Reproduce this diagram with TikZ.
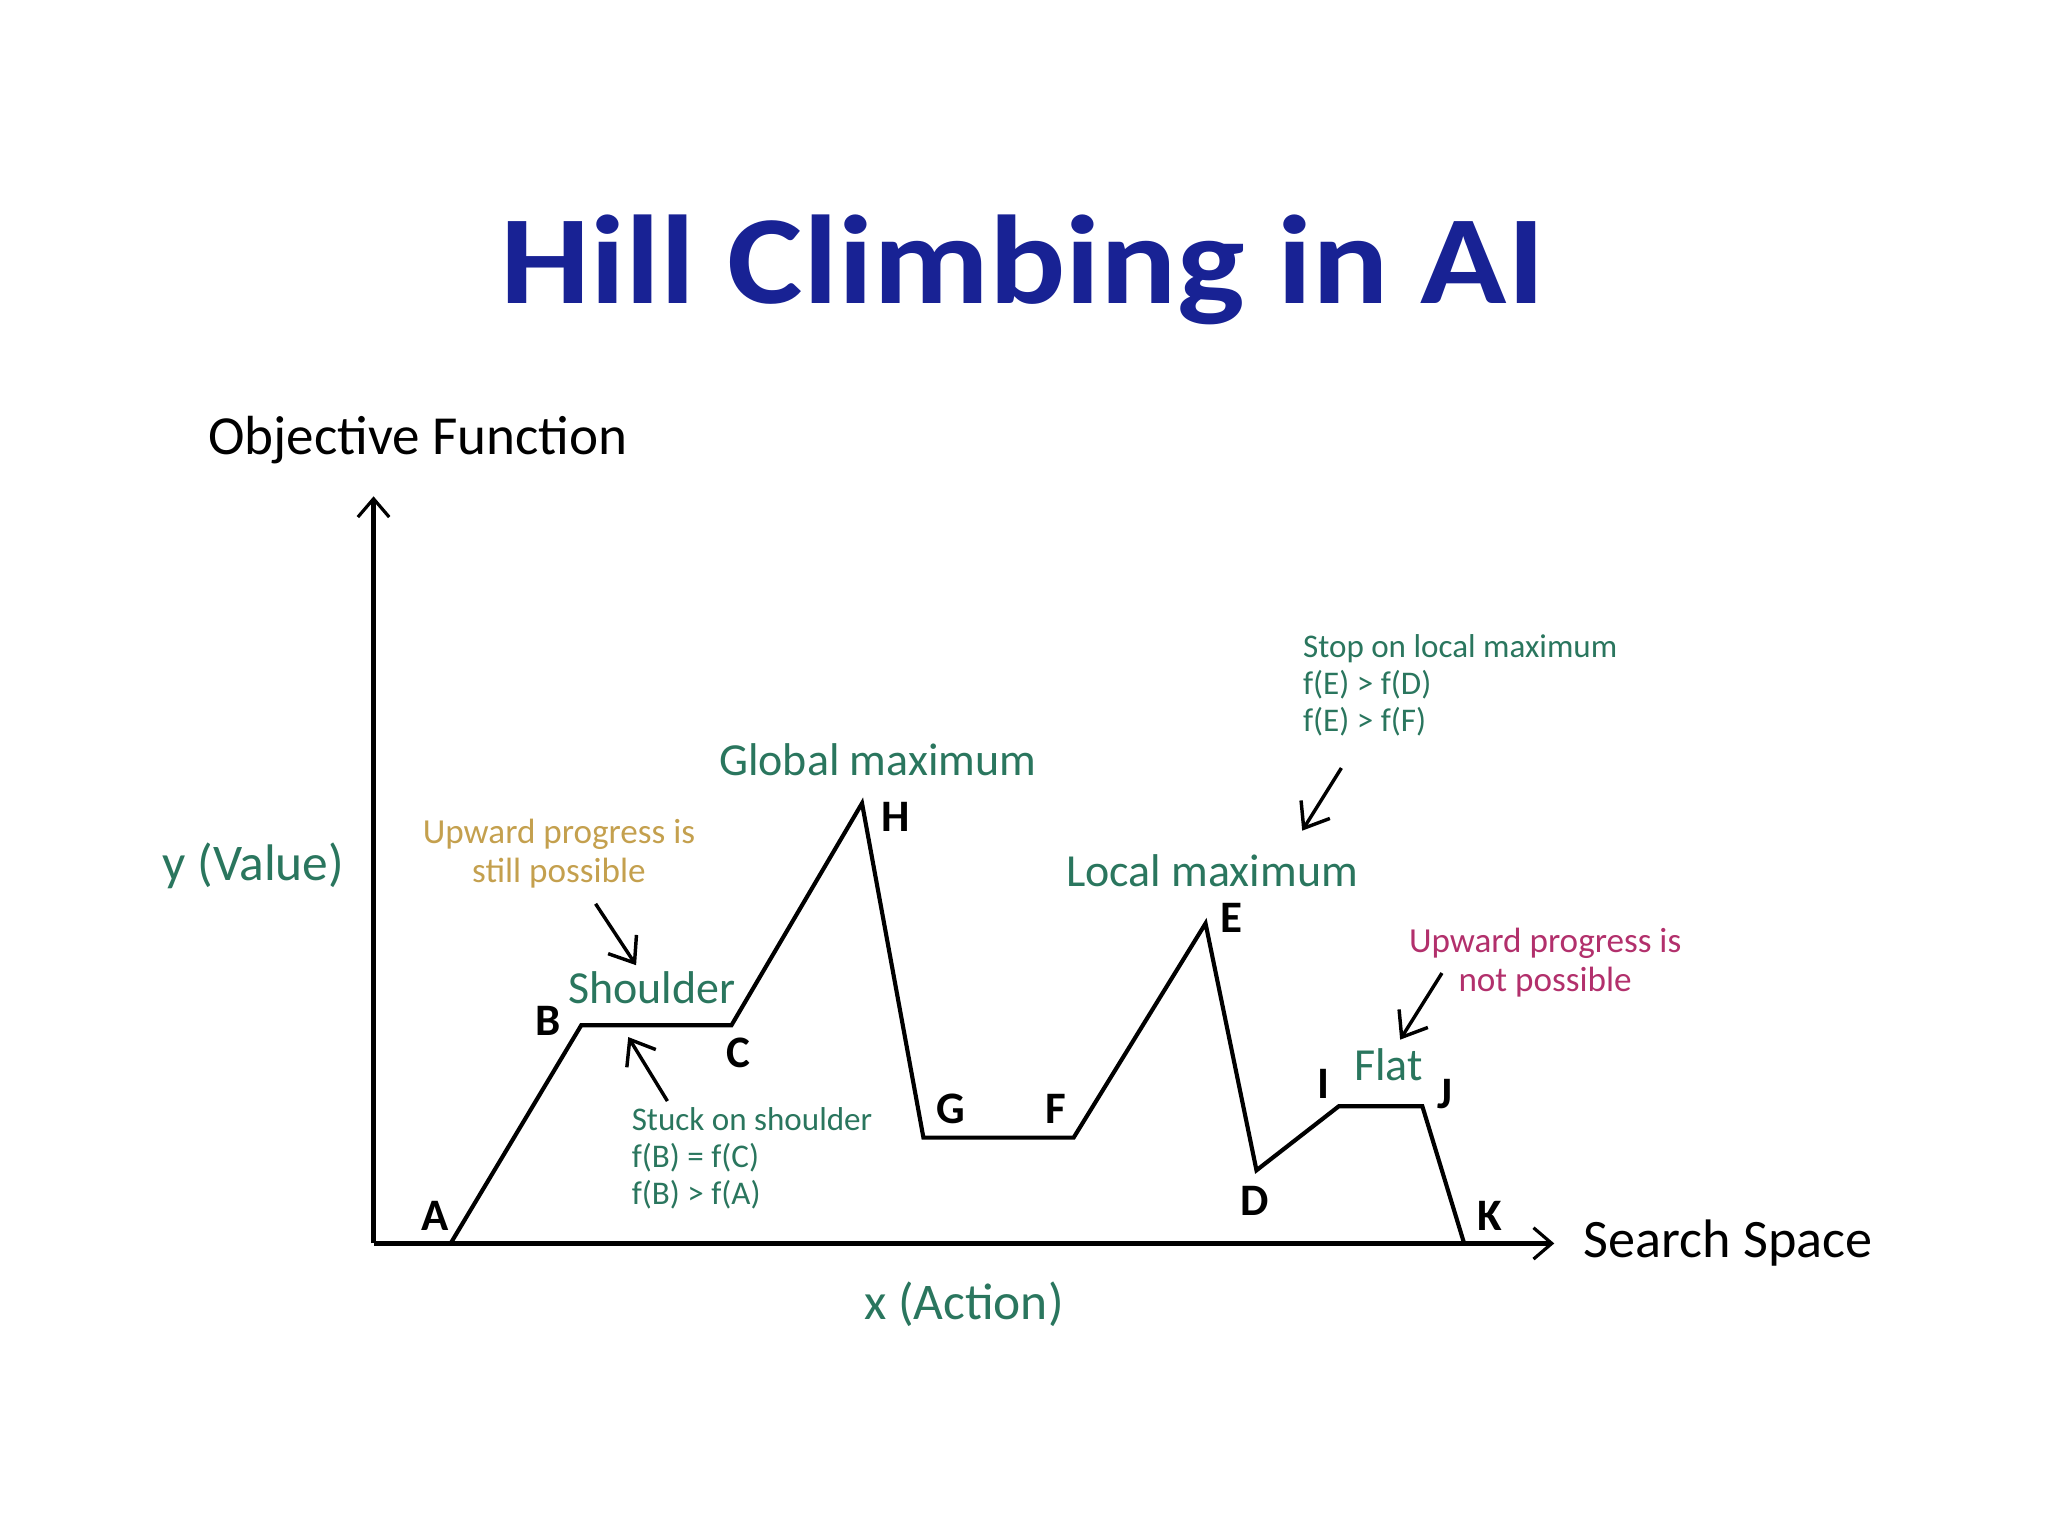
\documentclass[tikz,border=0pt]{standalone}
\usepackage{fontspec}
\setmainfont{Carlito}
\usepackage{xcolor}
\usetikzlibrary{arrows.meta}
\definecolor{titleblue}{RGB}{24,34,148}
\definecolor{hillteal}{RGB}{42,118,94}
\definecolor{hillolive}{RGB}{196,160,78}
\definecolor{hillrose}{RGB}{178,48,108}
\tikzset{
  curveline/.style={line width=0.9pt,line join=miter},
  axisline/.style={line width=1.1pt,-{Straight Barb[length=1.4mm,width=2.4mm,line width=0.7pt]}},
  note/.style={line width=0.75pt,-{Straight Barb[length=1.7mm,width=2.6mm]}},
  ptlabel/.style={anchor=base,font=\bfseries\fontsize{9.8}{11}\selectfont},
  regionlabel/.style={anchor=base,text=hillteal,font=\fontsize{10}{12}\selectfont},
  axislabel/.style={anchor=base,font=\fontsize{11.2}{13}\selectfont},
  remark/.style={anchor=base,font=\fontsize{7.2}{8}\selectfont,inner sep=0pt},
  wideremark/.style={anchor=base,font=\fontsize{7.65}{8.5}\selectfont,inner sep=0pt,align=center},
}
\begin{document}
\begin{tikzpicture}[x=0.01cm,y=-0.01cm]
 \useasboundingbox (0,0) rectangle (1568,1176);
 \node[anchor=base,text=titleblue,font=\bfseries\fontsize{27.5}{32}\selectfont] (title) at (783,232) {\scalebox{1.128}[1]{Hill Climbing in AI}};
 \node[axislabel,font=\fontsize{12}{14}\selectfont] (objf) at (320,348) {Objective Function};
 \node[axislabel,text=hillteal] (yval) at (194,674) {y (Value)};
 \node[axislabel,text=hillteal] (xact) at (738,1010) {x (Action)};
 \node[axislabel,font=\fontsize{11.8}{14}\selectfont] (sspace) at (1323,963) {Search Space};
 \coordinate (origin) at (286,952);
 \coordinate (ytip) at (286,380);
 \coordinate (xtip) at (1190,952);
 \draw[axisline] (origin) -- (ytip);
 \draw[axisline] (origin) -- (xtip);
 \foreach \n/\x/\y in {A/345/952,B/445/785,C/560/785,H/660/615,G/707/871,F/822/871,
                       E/923/707,D/962/896,I/1025/847,J/1089/847,K/1121/952}
  \coordinate (\n) at (\x,\y);
 \draw[curveline] (A) -- (B) -- (C) -- (H) -- (G) -- (F) -- (E) -- (D) -- (I) -- (J) -- (K);
 \foreach \n/\x/\y in {A/333/942,B/420/793,C/565/817,H/686/637,G/728/860,F/808/860,
                       E/943/714,D/961/931,I/1013/841,J/1106/849,K/1141/942}
  \node[ptlabel] (lbl\n) at (\x,\y) {\n};
 \node[regionlabel] (globmax) at (672,594) {Global maximum};
 \node[regionlabel] (locmax) at (928,679) {Local maximum};
 \node[regionlabel] (shoulder) at (499,768) {Shoulder};
 \node[regionlabel] (flat) at (1063,827) {Flat};
 \node[wideremark,text=hillolive] (upstill) at (428,676) {Upward progress is\\still possible};
 \node[remark,text=hillteal,align=left,anchor=base west] (stuck) at (483,922) {Stuck on shoulder\\f(B) = f(C)\\f(B) > f(A)};
 \node[remark,text=hillteal,align=left,anchor=base west] (stop) at (997,560) {Stop on local maximum\\f(E) > f(D)\\f(E) > f(F)};
 \node[wideremark,text=hillrose] (upnot) at (1183,759) {Upward progress is\\not possible};
 \coordinate (upstillA) at (456,692); \coordinate (upstillB) at (487,739);
 \coordinate (stuckA) at (511,843);   \coordinate (stuckB) at (481,794);
 \coordinate (stopA) at (1027,588);   \coordinate (stopB) at (997,636);
 \coordinate (upnotA) at (1104,745);  \coordinate (upnotB) at (1072,796);
 \draw[note] (upstillA) -- (upstillB);
 \draw[note] (stuckA) -- (stuckB);
 \draw[note] (stopA) -- (stopB);
 \draw[note] (upnotA) -- (upnotB);
\end{tikzpicture}
\end{document}
